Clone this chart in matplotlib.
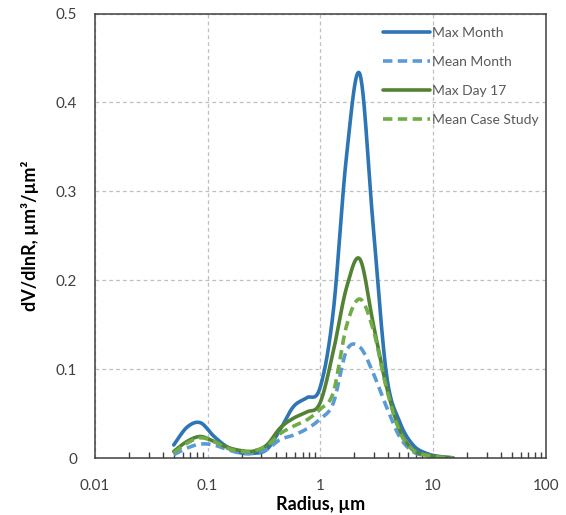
import numpy as np
import matplotlib
matplotlib.use("Agg")
import matplotlib.pyplot as plt
from matplotlib.ticker import LogLocator, NullFormatter, FixedLocator

plt.rcParams['font.family'] = ['Lato', 'DejaVu Sans']

radius = [0.05, 0.0656, 0.0861, 0.113, 0.148, 0.194, 0.255, 0.335, 0.439, 0.576,
          0.756, 0.992, 1.302, 1.708, 2.241, 2.940, 3.857, 5.061, 6.641, 8.713,
          11.432, 15.0]

max_month = [0.015, 0.035, 0.040, 0.025, 0.013, 0.0063, 0.0056, 0.010, 0.032, 0.058,
             0.068, 0.079, 0.165, 0.340, 0.432, 0.262, 0.095, 0.041, 0.015, 0.0056,
             0.002, 0.0006]
mean_month = [0.004, 0.0115, 0.016, 0.015, 0.010, 0.006, 0.006, 0.010, 0.021, 0.026,
              0.033, 0.044, 0.062, 0.121, 0.125, 0.096, 0.058, 0.024, 0.0075, 0.003,
              0.0012, 0.0005]
max_day17 = [0.0077, 0.019, 0.0245, 0.019, 0.0126, 0.0088, 0.008, 0.015, 0.034, 0.045,
             0.052, 0.062, 0.120, 0.192, 0.224, 0.152, 0.081, 0.032, 0.0094, 0.004,
             0.0015, 0.0005]
mean_case = [0.006, 0.017, 0.023, 0.019, 0.0115, 0.0077, 0.0085, 0.014, 0.0276, 0.036,
             0.043, 0.055, 0.074, 0.149, 0.179, 0.145, 0.079, 0.030, 0.009, 0.0035,
             0.0013, 0.0005]

labels = ["Max Month", "Mean Month", "Max Day 17", "Mean Case Study"]
colors = ["#2E75B6", "#5B9BD5", "#548235", "#70AD47"]
styles = ["-", (0, (2.6, 1.5)), "-", (0, (2.6, 1.5))]


def smooth(x, y, n=24):
    u = np.log10(np.asarray(x, float))
    v = np.asarray(y, float)
    P = np.column_stack([u, v])
    P = np.vstack([P[0], P, P[-1]])
    out = []
    t = np.linspace(0, 1, n, endpoint=False)[:, None]
    for i in range(1, len(P) - 2):
        p0, p1, p2, p3 = P[i - 1], P[i], P[i + 1], P[i + 2]
        c1 = p1 + (p2 - p0) / 6.0
        c2 = p2 - (p3 - p1) / 6.0
        seg = ((1 - t) ** 3) * p1 + 3 * ((1 - t) ** 2) * t * c1 + 3 * (1 - t) * t ** 2 * c2 + t ** 3 * p2
        out.append(seg)
    out.append(P[-2][None, :])
    S = np.vstack(out)
    return 10 ** S[:, 0], S[:, 1]


fig = plt.figure(figsize=(5.66, 5.15), dpi=100)
ax = fig.add_axes([95 / 566, (515 - 458.3) / 515, (545.7 - 95) / 566, (458.3 - 13.5) / 515])

for data, lab, c, ls in zip([max_month, mean_month, max_day17, mean_case], labels, colors, styles):
    xs, ys = smooth(radius, data)
    ax.plot(xs, ys, color=c, lw=2.6, ls=ls, label=lab, solid_capstyle='round')

ax.set_xscale('log')
ax.set_xlim(0.01, 100)
ax.set_ylim(0, 0.5)
ax.xaxis.set_major_locator(FixedLocator([0.01, 0.1, 1, 10, 100]))
ax.set_xticklabels(["0.01", "0.1", "1", "10", "100"])
ax.xaxis.set_minor_locator(LogLocator(base=10, subs=np.arange(2, 10)))
ax.xaxis.set_minor_formatter(NullFormatter())
ax.set_yticks([0, 0.1, 0.2, 0.3, 0.4, 0.5])
ax.set_yticklabels(["0", "0.1", "0.2", "0.3", "0.4", "0.5"])

ax.grid(True, which='major', color='#BFBFBF', ls=(0, (3, 2.5)), lw=0.9)
ax.set_axisbelow(True)
ax.tick_params(axis='x', which='minor', direction='in', length=4.5, width=1, color='#404040')
ax.tick_params(axis='x', which='major', direction='in', length=0, pad=15, labelsize=11, labelcolor='#404040')
ax.tick_params(axis='y', which='both', length=0, pad=13, labelsize=11, labelcolor='#404040')
for s in ax.spines.values():
    s.set_color('#404040')
    s.set_linewidth(1.1)

ax.set_xlabel("Radius, µm", fontsize=13, fontweight='bold', color='black', labelpad=2)
ax.set_ylabel("dV/dlnR, µm³/µm²", fontsize=13, fontweight='bold', color='black', labelpad=12)

leg = ax.legend(loc='upper left', bbox_to_anchor=(383 / 566, 488 / 515),
                bbox_transform=fig.transFigure, frameon=False, fontsize=10,
                handlelength=3.4, handletextpad=0.15, labelspacing=1.22, borderpad=0,
                borderaxespad=0)
for t in leg.get_texts():
    t.set_color('#595959')

fig.savefig("out.png", dpi=100)
